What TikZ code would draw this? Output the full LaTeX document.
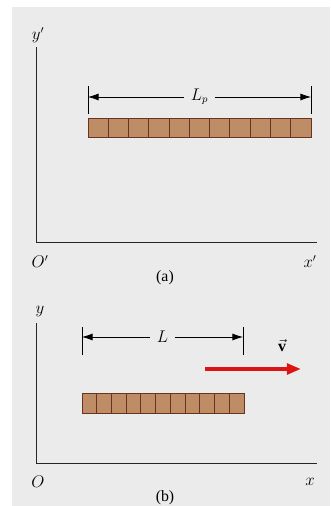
\documentclass[tikz,border=0pt]{standalone}
\usepackage{fontspec}
\setmainfont{Liberation Serif}
\usepackage{amsmath}
\usetikzlibrary{arrows.meta}
\definecolor{panelgray}{RGB}{235,235,235}
\definecolor{rodbrown}{RGB}{190,141,102}
\definecolor{roddark}{RGB}{105,50,35}
\definecolor{myred}{RGB}{220,20,20}
\tikzset{
  every node/.style={font=\fontsize{13.5}{15}\selectfont},
  axis/.style={line width=0.8pt, black!85},
  rodcell/.style={draw=roddark, fill=rodbrown, line width=0.8pt},
  dimline/.style={{Latex[length=9pt,width=6pt]}-{Latex[length=9pt,width=6pt]}, line width=0.6pt},
  endtick/.style={line width=0.8pt},
  velarrow/.style={-{Triangle[length=12pt,width=9pt]}, line width=3.2pt, myred},
}

\begin{document}
\begin{tikzpicture}[x=0.03cm, y=0.03cm]
  \useasboundingbox (0,0) rectangle (330,506);
  \fill[panelgray] (12,0) rectangle (330,499);
  % Top: rod at rest, proper length
  \begin{scope}
    \coordinate (oa) at (36,264);
    \draw[axis] (36,459) -- (oa) -- (317,264);
    \node (ya) at (38,471) {$y'$};
    \node (Oa) at (40,244) {$O'$};
    \node (xa) at (310,244) {$x'$};
    \node (capa) at (165,228) {(a)};
    \foreach \i in {0,...,10}
      \draw[rodcell] ({88+\i*20.27},369) rectangle ++(20.27,19);
    \coordinate (la) at (88,409);
    \coordinate (ra) at (311,409);
    \draw[endtick] (88,392) -- (88,420);
    \draw[endtick] (311,392) -- (311,420);
    \draw[dimline] (la) -- node[fill=panelgray, inner xsep=6pt] (Lp) {$L_p$} (ra);
  \end{scope}
  % Bottom: rod moving with velocity v, contracted
  \begin{scope}
    \coordinate (ob) at (36,43);
    \draw[axis] (36,183) -- (ob) -- (317,43);
    \node (yb) at (40,194) {$y$};
    \node (Ob) at (38,24) {$O$};
    \node (xb) at (310,24) {$x$};
    \node (capb) at (165,8) {(b)};
    \foreach \i in {0,...,10}
      \draw[rodcell] ({82+\i*14.73},93) rectangle ++(14.73,20);
    \coordinate (lb) at (82,169);
    \coordinate (rb) at (243,169);
    \draw[endtick] (82,151) -- (82,179);
    \draw[endtick] (243,151) -- (243,179);
    \draw[dimline] (lb) -- node[fill=panelgray, inner xsep=6pt] (L) {$L$} (rb);
    \coordinate (vtail) at (205,137);
    \coordinate (vhead) at (301,137);
    \draw[velarrow] (vtail) -- (vhead);
    \node (v) at (282,160) {$\vec{\mathbf{v}}$};
  \end{scope}
\end{tikzpicture}
\end{document}
